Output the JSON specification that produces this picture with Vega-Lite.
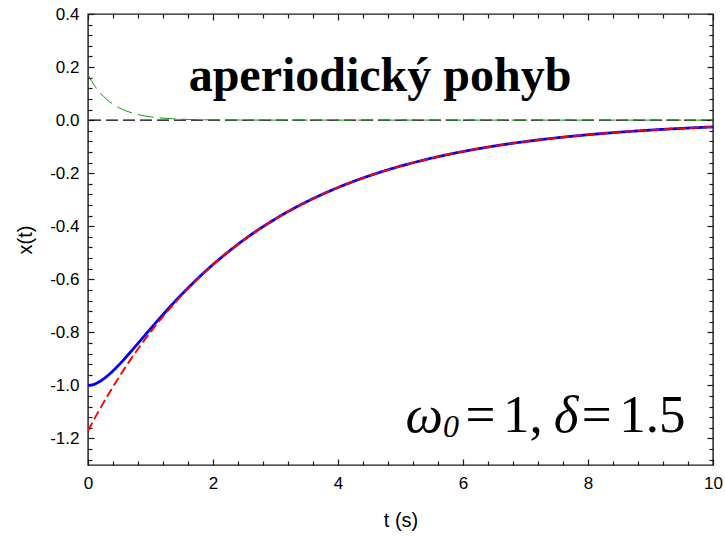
{
  "$schema": "https://vega.github.io/schema/vega-lite/v6.json",
  "width": 625,
  "height": 451,
  "autosize": "none",
  "padding": {"left": 88, "top": 14, "right": 12, "bottom": 71},
  "background": "white",
  "config": {
    "view": {"stroke": "#1a1a1a", "strokeWidth": 1.4},
    "axis": {
      "domain": false,
      "grid": false,
      "tickColor": "#1a1a1a",
      "tickWidth": 1.2,
      "labelColor": "black",
      "labelFont": "Liberation Sans",
      "labelFontSize": 17,
      "titleFont": "Liberation Sans",
      "titleFontSize": 20,
      "titleFontWeight": "normal",
      "titleColor": "black",
      "labelOverlap": false,
      "labelFlush": false,
      "labelBound": false
    },
    "text": {"font": "Liberation Serif", "color": "black", "baseline": "alphabetic", "align": "left"}
  },
  "datasets": {
    "curves": [
      {"t": 0, "x": -1.0, "c": "total"},
      {"t": 0.05, "x": -0.99881, "c": "total"},
      {"t": 0.1, "x": -0.99547, "c": "total"},
      {"t": 0.2, "x": -0.98352, "c": "total"},
      {"t": 0.3, "x": -0.96618, "c": "total"},
      {"t": 0.4, "x": -0.94499, "c": "total"},
      {"t": 0.5, "x": -0.92113, "c": "total"},
      {"t": 0.6, "x": -0.89551, "c": "total"},
      {"t": 0.7, "x": -0.8688, "c": "total"},
      {"t": 0.8, "x": -0.84151, "c": "total"},
      {"t": 0.9, "x": -0.81403, "c": "total"},
      {"t": 1.0, "x": -0.78665, "c": "total"},
      {"t": 1.2, "x": -0.73295, "c": "total"},
      {"t": 1.4, "x": -0.68151, "c": "total"},
      {"t": 1.6, "x": -0.63285, "c": "total"},
      {"t": 1.8, "x": -0.58717, "c": "total"},
      {"t": 2.0, "x": -0.5445, "c": "total"},
      {"t": 2.5, "x": -0.45033, "c": "total"},
      {"t": 3.0, "x": -0.37218, "c": "total"},
      {"t": 3.5, "x": -0.30751, "c": "total"},
      {"t": 4.0, "x": -0.25407, "c": "total"},
      {"t": 4.5, "x": -0.2099, "c": "total"},
      {"t": 5.0, "x": -0.17341, "c": "total"},
      {"t": 5.5, "x": -0.14326, "c": "total"},
      {"t": 6.0, "x": -0.11835, "c": "total"},
      {"t": 6.5, "x": -0.09778, "c": "total"},
      {"t": 7.0, "x": -0.08078, "c": "total"},
      {"t": 7.5, "x": -0.06673, "c": "total"},
      {"t": 8.0, "x": -0.05513, "c": "total"},
      {"t": 8.5, "x": -0.04555, "c": "total"},
      {"t": 9.0, "x": -0.03763, "c": "total"},
      {"t": 9.5, "x": -0.03109, "c": "total"},
      {"t": 10.0, "x": -0.02568, "c": "total"},
      {"t": 0, "x": -1.17082, "c": "slow"},
      {"t": 0.1, "x": -1.12694, "c": "slow"},
      {"t": 0.2, "x": -1.08471, "c": "slow"},
      {"t": 0.3, "x": -1.04406, "c": "slow"},
      {"t": 0.4, "x": -1.00493, "c": "slow"},
      {"t": 0.5, "x": -0.96727, "c": "slow"},
      {"t": 0.6, "x": -0.93102, "c": "slow"},
      {"t": 0.7, "x": -0.89613, "c": "slow"},
      {"t": 0.8, "x": -0.86254, "c": "slow"},
      {"t": 0.9, "x": -0.83022, "c": "slow"},
      {"t": 1.0, "x": -0.79911, "c": "slow"},
      {"t": 1.2, "x": -0.74033, "c": "slow"},
      {"t": 1.4, "x": -0.68588, "c": "slow"},
      {"t": 1.6, "x": -0.63544, "c": "slow"},
      {"t": 1.8, "x": -0.5887, "c": "slow"},
      {"t": 2.0, "x": -0.54541, "c": "slow"},
      {"t": 2.5, "x": -0.45058, "c": "slow"},
      {"t": 3.0, "x": -0.37225, "c": "slow"},
      {"t": 3.5, "x": -0.30753, "c": "slow"},
      {"t": 4.0, "x": -0.25407, "c": "slow"},
      {"t": 4.5, "x": -0.2099, "c": "slow"},
      {"t": 5.0, "x": -0.17341, "c": "slow"},
      {"t": 5.5, "x": -0.14326, "c": "slow"},
      {"t": 6.0, "x": -0.11835, "c": "slow"},
      {"t": 6.5, "x": -0.09778, "c": "slow"},
      {"t": 7.0, "x": -0.08078, "c": "slow"},
      {"t": 7.5, "x": -0.06673, "c": "slow"},
      {"t": 8.0, "x": -0.05513, "c": "slow"},
      {"t": 8.5, "x": -0.04555, "c": "slow"},
      {"t": 9.0, "x": -0.03763, "c": "slow"},
      {"t": 9.5, "x": -0.03109, "c": "slow"},
      {"t": 10.0, "x": -0.02568, "c": "slow"},
      {"t": 0, "x": 0.17082, "c": "fast"},
      {"t": 0.1, "x": 0.13147, "c": "fast"},
      {"t": 0.2, "x": 0.10119, "c": "fast"},
      {"t": 0.3, "x": 0.07788, "c": "fast"},
      {"t": 0.4, "x": 0.05994, "c": "fast"},
      {"t": 0.5, "x": 0.04614, "c": "fast"},
      {"t": 0.6, "x": 0.03551, "c": "fast"},
      {"t": 0.7, "x": 0.02733, "c": "fast"},
      {"t": 0.8, "x": 0.02103, "c": "fast"},
      {"t": 0.9, "x": 0.01619, "c": "fast"},
      {"t": 1.0, "x": 0.01246, "c": "fast"},
      {"t": 1.2, "x": 0.00738, "c": "fast"},
      {"t": 1.4, "x": 0.00437, "c": "fast"},
      {"t": 1.6, "x": 0.00259, "c": "fast"},
      {"t": 1.8, "x": 0.00153, "c": "fast"},
      {"t": 2.0, "x": 0.00091, "c": "fast"},
      {"t": 2.5, "x": 0.00025, "c": "fast"},
      {"t": 3.0, "x": 0.00007, "c": "fast"},
      {"t": 4.0, "x": 0.0, "c": "fast"},
      {"t": 6.0, "x": 0.0, "c": "fast"},
      {"t": 8.0, "x": 0.0, "c": "fast"},
      {"t": 10.0, "x": 0.0, "c": "fast"}
    ]
  },
  "resolve": {"axis": {"x": "independent", "y": "independent"}},
  "layer": [
    {
      "data": {"values": [{}]},
      "mark": {"type": "rule", "color": "black", "strokeWidth": 1.2, "strokeDash": [12, 5]},
      "encoding": {"y": {"datum": 0, "type": "quantitative", "axis": null}}
    },
    {
      "data": {"name": "curves"},
      "mark": {"type": "line", "interpolate": "monotone"},
      "encoding": {
        "x": {
          "field": "t", "type": "quantitative",
          "scale": {"domain": [0, 10], "nice": false, "zero": false},
          "axis": {
            "orient": "bottom", "title": "t (s)",
            "values": [0, 0.4, 0.8, 1.2, 1.6, 2, 2.4, 2.8, 3.2, 3.6, 4, 4.4, 4.8, 5.2, 5.6, 6, 6.4, 6.8, 7.2, 7.6, 8, 8.4, 8.8, 9.2, 9.6, 10],
            "labelExpr": "abs(datum.value/2 - round(datum.value/2)) < 0.001 ? format(datum.value, 'd') : ''",
            "tickSize": {"condition": {"test": "abs(datum.value/2 - round(datum.value/2)) < 0.001", "value": -6}, "value": -4},
            "labelPadding": 16,
            "titlePadding": 17
          }
        },
        "y": {
          "field": "x", "type": "quantitative",
          "scale": {"domain": [-1.3, 0.4], "nice": false, "zero": false},
          "axis": {
            "orient": "left", "title": "x(t)",
            "values": [0.4, 0.36, 0.32, 0.28, 0.24, 0.2, 0.16, 0.12, 0.08, 0.04, 0, -0.04, -0.08, -0.12, -0.16, -0.2, -0.24, -0.28, -0.32, -0.36, -0.4, -0.44, -0.48, -0.52, -0.56, -0.6, -0.64, -0.68, -0.72, -0.76, -0.8, -0.84, -0.88, -0.92, -0.96, -1, -1.04, -1.08, -1.12, -1.16, -1.2, -1.24, -1.28],
            "labelExpr": "abs(datum.value*5 - round(datum.value*5)) < 0.001 ? replace(format(datum.value, '.1f'), '\u2212', '-') : ''",
            "tickSize": {"condition": {"test": "abs(datum.value*5 - round(datum.value*5)) < 0.001", "value": -6}, "value": -4},
            "labelPadding": 15,
            "titlePadding": 14
          }
        },
        "color": {"field": "c", "type": "nominal", "scale": {"domain": ["total", "slow", "fast"], "range": ["#0000ff", "#ff0000", "#1a941a"]}, "legend": null},
        "strokeDash": {"field": "c", "type": "nominal", "scale": {"domain": ["total", "slow", "fast"], "range": [[1, 0], [9, 4], [16, 6]]}, "legend": null},
        "strokeWidth": {"field": "c", "type": "ordinal", "scale": {"domain": ["total", "slow", "fast"], "range": [2.8, 1.0, 1.0]}, "legend": null}
      }
    },
    {
      "data": {"values": [{}]},
      "mark": {"type": "text", "text": "aperiodický pohyb", "fontWeight": "bold", "fontSize": 48, "align": "center"},
      "encoding": {
        "x": {
          "datum": 4.672, "type": "quantitative",
          "axis": {
            "orient": "top", "title": null, "labels": false,
            "values": [0, 0.4, 0.8, 1.2, 1.6, 2, 2.4, 2.8, 3.2, 3.6, 4, 4.4, 4.8, 5.2, 5.6, 6, 6.4, 6.8, 7.2, 7.6, 8, 8.4, 8.8, 9.2, 9.6, 10],
            "tickSize": {"condition": {"test": "abs(datum.value/2 - round(datum.value/2)) < 0.001", "value": -6}, "value": -4}
          }
        },
        "y": {
          "datum": 0.11, "type": "quantitative",
          "axis": {
            "orient": "right", "title": null, "labels": false,
            "values": [0.4, 0.36, 0.32, 0.28, 0.24, 0.2, 0.16, 0.12, 0.08, 0.04, 0, -0.04, -0.08, -0.12, -0.16, -0.2, -0.24, -0.28, -0.32, -0.36, -0.4, -0.44, -0.48, -0.52, -0.56, -0.6, -0.64, -0.68, -0.72, -0.76, -0.8, -0.84, -0.88, -0.92, -0.96, -1, -1.04, -1.08, -1.12, -1.16, -1.2, -1.24, -1.28],
            "tickSize": {"condition": {"test": "abs(datum.value*5 - round(datum.value*5)) < 0.001", "value": -6}, "value": -4}
          }
        }
      }
    },
    {
      "data": {"values": [{}]},
      "mark": {"type": "text", "text": "ω", "fontStyle": "italic", "fontSize": 53},
      "encoding": {"x": {"datum": 5.08, "type": "quantitative", "axis": null}, "y": {"datum": -1.175, "type": "quantitative", "axis": null}}
    },
    {
      "data": {"values": [{}]},
      "mark": {"type": "text", "text": "0", "fontStyle": "italic", "fontSize": 32},
      "encoding": {"x": {"datum": 5.68, "type": "quantitative", "axis": null}, "y": {"datum": -1.195, "type": "quantitative", "axis": null}}
    },
    {
      "data": {"values": [{}]},
      "mark": {"type": "text", "text": "=", "fontSize": 53},
      "encoding": {"x": {"datum": 6.04, "type": "quantitative", "axis": null}, "y": {"datum": -1.175, "type": "quantitative", "axis": null}}
    },
    {
      "data": {"values": [{}]},
      "mark": {"type": "text", "text": "1,", "fontSize": 53},
      "encoding": {"x": {"datum": 6.64, "type": "quantitative", "axis": null}, "y": {"datum": -1.175, "type": "quantitative", "axis": null}}
    },
    {
      "data": {"values": [{}]},
      "mark": {"type": "text", "text": "δ", "fontStyle": "italic", "fontSize": 53},
      "encoding": {"x": {"datum": 7.45, "type": "quantitative", "axis": null}, "y": {"datum": -1.175, "type": "quantitative", "axis": null}}
    },
    {
      "data": {"values": [{}]},
      "mark": {"type": "text", "text": "=", "fontSize": 53},
      "encoding": {"x": {"datum": 7.9, "type": "quantitative", "axis": null}, "y": {"datum": -1.175, "type": "quantitative", "axis": null}}
    },
    {
      "data": {"values": [{}]},
      "mark": {"type": "text", "text": "1.5", "fontSize": 53},
      "encoding": {"x": {"datum": 8.5, "type": "quantitative", "axis": null}, "y": {"datum": -1.175, "type": "quantitative", "axis": null}}
    }
  ]
}
